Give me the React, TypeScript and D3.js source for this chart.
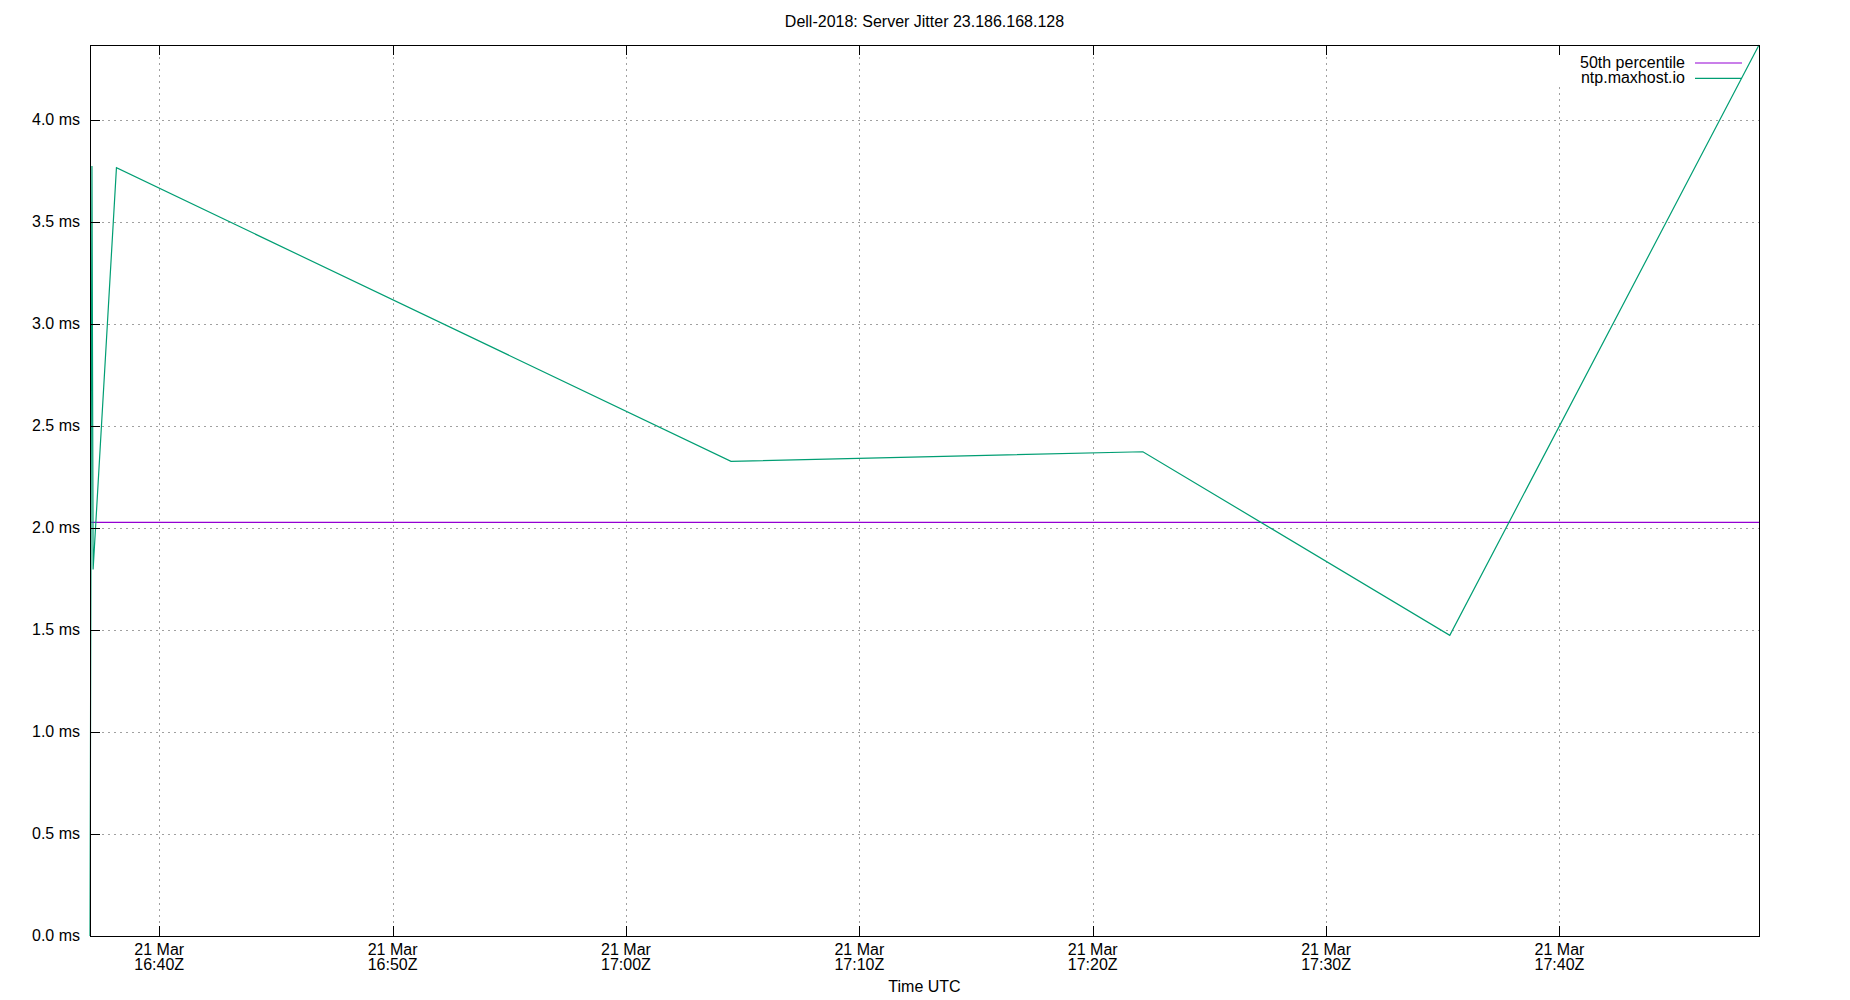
import React, { useEffect, useRef } from "react";
import * as d3 from "d3";

const TITLE = "Dell-2018: Server Jitter 23.186.168.128";
const X_LABEL = "Time UTC";

// series: ntp.maxhost.io jitter (ms)
const times = [
  "2019-03-21T16:37:02Z",
  "2019-03-21T16:37:07Z",
  "2019-03-21T16:37:10Z",
  "2019-03-21T16:38:10Z",
  "2019-03-21T17:04:30Z",
  "2019-03-21T17:22:09Z",
  "2019-03-21T17:35:18Z",
  "2019-03-21T17:48:33Z",
];
const jitter = [0.0, 3.775, 1.797, 3.766, 2.327, 2.374, 1.474, 4.368];

const percentile50 = 2.028;

const yTicks = [0, 0.5, 1, 1.5, 2, 2.5, 3, 3.5, 4];
const xTicks = [
  "2019-03-21T16:40:00Z",
  "2019-03-21T16:50:00Z",
  "2019-03-21T17:00:00Z",
  "2019-03-21T17:10:00Z",
  "2019-03-21T17:20:00Z",
  "2019-03-21T17:30:00Z",
  "2019-03-21T17:40:00Z",
];

const legendNames = ["50th percentile", "ntp.maxhost.io"];
const colors = ["#9400d3", "#009e73"];

const W = 1850;
const H = 1000;
const M = { left: 90, right: 1759, top: 45, bottom: 936 };
const FONT = "'Liberation Sans', Arial, sans-serif";

export default function App() {
  const ref = useRef<SVGSVGElement>(null);

  useEffect(() => {
    const svg = d3.select(ref.current);
    svg.selectAll("*").remove();

    const tParsed = times.map((t) => new Date(t));
    const data = tParsed.map((t, i) => ({ t, v: jitter[i] }));

    const x = d3
      .scaleUtc()
      .domain(d3.extent(tParsed) as [Date, Date])
      .range([M.left, M.right]);
    const y = d3
      .scaleLinear()
      .domain([0, d3.max(jitter) as number])
      .range([M.bottom, M.top]);

    svg.append("rect").attr("width", W).attr("height", H).attr("fill", "#fff");

    const g = svg.append("g");
    const xt = xTicks.map((t) => new Date(t));

    // grid
    yTicks.forEach((v) => {
      const yy = Math.round(y(v)) + 0.5;
      if (v > 0)
        g.append("line")
          .attr("x1", M.left)
          .attr("x2", M.right)
          .attr("y1", yy)
          .attr("y2", yy)
          .attr("stroke", "#a0a0a0")
          .attr("stroke-width", 1)
          .attr("stroke-dasharray", "2,4");
    });
    xt.forEach((t) => {
      const xx = Math.round(x(t)) + 0.5;
      g.append("line")
        .attr("x1", xx)
        .attr("x2", xx)
        .attr("y1", M.top)
        .attr("y2", M.bottom)
        .attr("stroke", "#a0a0a0")
        .attr("stroke-width", 1)
        .attr("stroke-dasharray", "2,4");
    });

    // key area blanks the grid
    g.append("rect")
      .attr("x", 1550)
      .attr("y", M.top + 1)
      .attr("width", M.right - 1550 - 1)
      .attr("height", 41)
      .attr("fill", "#fff");

    // 50th percentile line
    g.append("line")
      .attr("x1", M.left)
      .attr("x2", M.right)
      .attr("y1", y(percentile50))
      .attr("y2", y(percentile50))
      .attr("stroke", colors[0])
      .attr("stroke-width", 1.2);

    // series
    const line = d3
      .line<{ t: Date; v: number }>()
      .x((d) => x(d.t))
      .y((d) => y(d.v));
    g.append("path")
      .datum(data)
      .attr("d", line)
      .attr("fill", "none")
      .attr("stroke", colors[1])
      .attr("stroke-width", 1.2);

    // border
    g.append("rect")
      .attr("x", M.left + 0.5)
      .attr("y", M.top + 0.5)
      .attr("width", M.right - M.left)
      .attr("height", M.bottom - M.top)
      .attr("fill", "none")
      .attr("stroke", "#000")
      .attr("stroke-width", 1);

    // y ticks + labels
    yTicks.forEach((v) => {
      const yy = Math.round(y(v)) + 0.5;
      g.append("line")
        .attr("x1", M.left)
        .attr("x2", M.left + 10)
        .attr("y1", yy)
        .attr("y2", yy)
        .attr("stroke", "#000");
      g.append("text")
        .attr("x", M.left - 10)
        .attr("y", y(v) + 4.5)
        .attr("text-anchor", "end")
        .attr("font-family", FONT)
        .attr("font-size", 16)
        .attr("fill", "#000")
        .text(`${v.toFixed(1)} ms`);
    });

    // x ticks + labels
    const fmtDay = d3.utcFormat("%d %b");
    const fmtTime = d3.utcFormat("%H:%MZ");
    xt.forEach((t) => {
      const xx = Math.round(x(t)) + 0.5;
      g.append("line")
        .attr("x1", xx)
        .attr("x2", xx)
        .attr("y1", M.bottom)
        .attr("y2", M.bottom - 10)
        .attr("stroke", "#000");
      g.append("line")
        .attr("x1", xx)
        .attr("x2", xx)
        .attr("y1", M.top)
        .attr("y2", M.top + 10)
        .attr("stroke", "#000");
      const tx = g
        .append("text")
        .attr("text-anchor", "middle")
        .attr("font-family", FONT)
        .attr("font-size", 16)
        .attr("fill", "#000");
      tx.append("tspan").attr("x", x(t)).attr("y", 955).text(fmtDay(t));
      tx.append("tspan").attr("x", x(t)).attr("y", 970).text(fmtTime(t));
    });

    // title
    svg
      .append("text")
      .attr("x", (M.left + M.right) / 2)
      .attr("y", 27)
      .attr("text-anchor", "middle")
      .attr("font-family", FONT)
      .attr("font-size", 16)
      .attr("fill", "#000")
      .text(TITLE);

    // x label
    svg
      .append("text")
      .attr("x", (M.left + M.right) / 2)
      .attr("y", 991.5)
      .attr("text-anchor", "middle")
      .attr("font-family", FONT)
      .attr("font-size", 16)
      .attr("fill", "#000")
      .text(X_LABEL);

    // legend
    legendNames.forEach((name, i) => {
      const ly = 63 + i * 15.3;
      svg
        .append("text")
        .attr("x", 1685)
        .attr("y", ly + 4.5)
        .attr("text-anchor", "end")
        .attr("font-family", FONT)
        .attr("font-size", 16)
        .attr("fill", "#000")
        .text(name);
      svg
        .append("line")
        .attr("x1", 1695)
        .attr("x2", 1742)
        .attr("y1", ly)
        .attr("y2", ly)
        .attr("stroke", colors[i])
        .attr("stroke-width", 1.2);
    });
  }, []);

  return (
    <svg
      ref={ref}
      width={W}
      height={H}
      style={{ position: "absolute", left: 0, top: 0, display: "block" }}
    />
  );
}
